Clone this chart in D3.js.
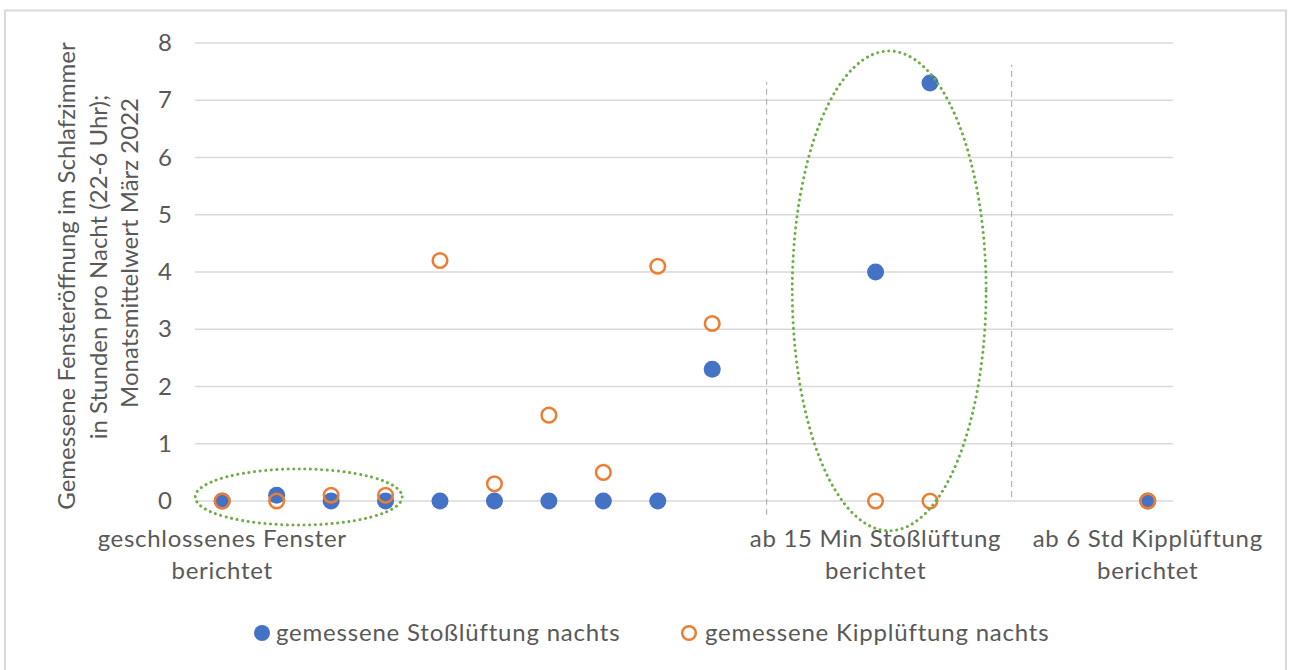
<!DOCTYPE html>
<html><head><meta charset="utf-8">
<script src="https://cdn.jsdelivr.net/npm/d3@7"></script>
<style>
html,body{margin:0;padding:0;background:#fff;}
svg{display:block;font-family:Lato,"Open Sans",sans-serif;}
</style></head>
<body>
<svg id="chart" width="1290" height="670"></svg>
<script>
// ---- data ----
const categoryIndex = [0,1,2,3,4,5,6,7,8,9,10,11,12,13,14,15,16,17];
const categoryLabels = [
  {i:0,  lines:["geschlossenes Fenster","berichtet"]},
  {i:12, lines:["ab 15 Min Stoßlüftung","berichtet"]},
  {i:17, lines:["ab 6 Std Kipplüftung","berichtet"]}
];
const stossIdx    = [0, 1,   2, 3, 4, 5, 6, 7, 8, 9,   12,  13,  17];
const stossValues = [0, 0.1, 0, 0, 0, 0, 0, 0, 0, 2.3, 4.0, 7.3, 0];
const kippIdx     = [0, 1, 2,   3,   4,   5,   6,   7,   8,   9,   12, 13, 17];
const kippValues  = [0, 0, 0.1, 0.1, 4.2, 0.3, 1.5, 0.5, 4.1, 3.1, 0,  0,  0];
const yTicks = [0,1,2,3,4,5,6,7,8];
const seriesNames = ["gemessene Stoßlüftung nachts","gemessene Kipplüftung nachts"];
const yTitle = ["Gemessene Fensteröffnung im Schlafzimmer","in Stunden pro Nacht (22-6 Uhr);","Monatsmittelwert März 2022"];
// annotations (category-index / value units)
const dividerX   = [10, 14.5];
const dividerY0  = [-0.24, 0.07];
const dividerY1  = [7.32, 7.62];
const ellipseCx  = [1.405, 12.25];
const ellipseCy  = [0.07, 3.67];
const ellipseRx  = [1.90, 1.78];
const ellipseRy  = [0.49, 4.19];

const svg = d3.select("#chart");
const textColor = "#595959";
const blue = "#4472C4", orange = "#ED7D31", green = "#70AD47";

const x = d3.scaleLinear().domain([-0.5, 17.5]).range([195, 1175]);
const y = d3.scaleLinear().domain([0, 8]).range([501, 43]);

// frame
svg.append("rect").attr("x",5).attr("y",10.5).attr("width",1281).attr("height",680)
  .attr("fill","none").attr("stroke","#d9d9d9").attr("stroke-width",2);

// gridlines
svg.append("g").selectAll("line").data(yTicks).join("line")
  .attr("x1",195).attr("x2",1173)
  .attr("y1",d=>y(d)).attr("y2",d=>y(d))
  .attr("stroke","#d9d9d9").attr("stroke-width",1.6);

// y axis tick labels via d3 axis
const yAxis = svg.append("g").attr("transform","translate(180,0)")
  .call(d3.axisLeft(y).tickValues(yTicks).tickSize(0).tickPadding(0).tickFormat(d3.format("d")));
yAxis.select(".domain").remove();
yAxis.selectAll("text").attr("fill",textColor).style("font-size","24px")
  .style("font-family","Lato, sans-serif").attr("x",-8);

// y title
const titleX = [67, 99, 130];
const titleCy = [276, 267, 253];
yTitle.forEach((t,k)=>{
  svg.append("text")
    .attr("transform",`translate(${titleX[k]},${titleCy[k]}) rotate(-90)`)
    .attr("text-anchor","middle").attr("dy","0.35em")
    .attr("fill",textColor).style("font-size","24px").text(t);
});

// category labels
categoryLabels.forEach(c=>{
  const g = svg.append("text").attr("text-anchor","middle").attr("fill",textColor)
    .style("font-size","24px").style("letter-spacing","0.7px");
  c.lines.forEach((l,k)=>{
    g.append("tspan").attr("x",x(c.i)).attr("y",547+k*32).text(l);
  });
});

// dashed dividers
svg.append("g").selectAll("line").data(dividerX).join("line")
  .attr("x1",d=>x(d)).attr("x2",d=>x(d))
  .attr("y1",(d,i)=>y(dividerY0[i])).attr("y2",(d,i)=>y(dividerY1[i]))
  .attr("stroke","#a6a6a6").attr("stroke-width",1).attr("stroke-dasharray","6,4");

// points: blue then orange
svg.append("g").selectAll("circle").data(stossIdx).join("circle")
  .attr("cx",d=>x(d)).attr("cy",(d,i)=>y(stossValues[i])).attr("r",8.5).attr("fill",blue);
svg.append("g").selectAll("circle").data(kippIdx).join("circle")
  .attr("cx",d=>x(d)).attr("cy",(d,i)=>y(kippValues[i])).attr("r",7.3)
  .attr("fill","none").attr("stroke",orange).attr("stroke-width",2.5);

// green dotted ellipses
const ux = x(1)-x(0), uy = y(0)-y(1);
svg.append("g").selectAll("ellipse").data(ellipseCx).join("ellipse")
  .attr("cx",d=>x(d)).attr("cy",(d,i)=>y(ellipseCy[i]))
  .attr("rx",(d,i)=>ellipseRx[i]*ux).attr("ry",(d,i)=>ellipseRy[i]*uy)
  .attr("fill","none").attr("stroke",green).attr("stroke-width",3)
  .attr("stroke-dasharray","0.1,5.5").attr("stroke-linecap","round");

// legend
const leg = svg.append("g").style("font-size","24px").style("letter-spacing","0.8px");
leg.append("circle").attr("cx",262).attr("cy",633).attr("r",8).attr("fill",blue);
leg.append("text").attr("x",276).attr("y",633).attr("dy","0.35em").attr("fill",textColor)
  .text(seriesNames[0]);
leg.append("circle").attr("cx",689).attr("cy",633).attr("r",6.8)
  .attr("fill","none").attr("stroke",orange).attr("stroke-width",2.5);
leg.append("text").attr("x",705).attr("y",633).attr("dy","0.35em").attr("fill",textColor)
  .text(seriesNames[1]);
</script>
</body></html>
